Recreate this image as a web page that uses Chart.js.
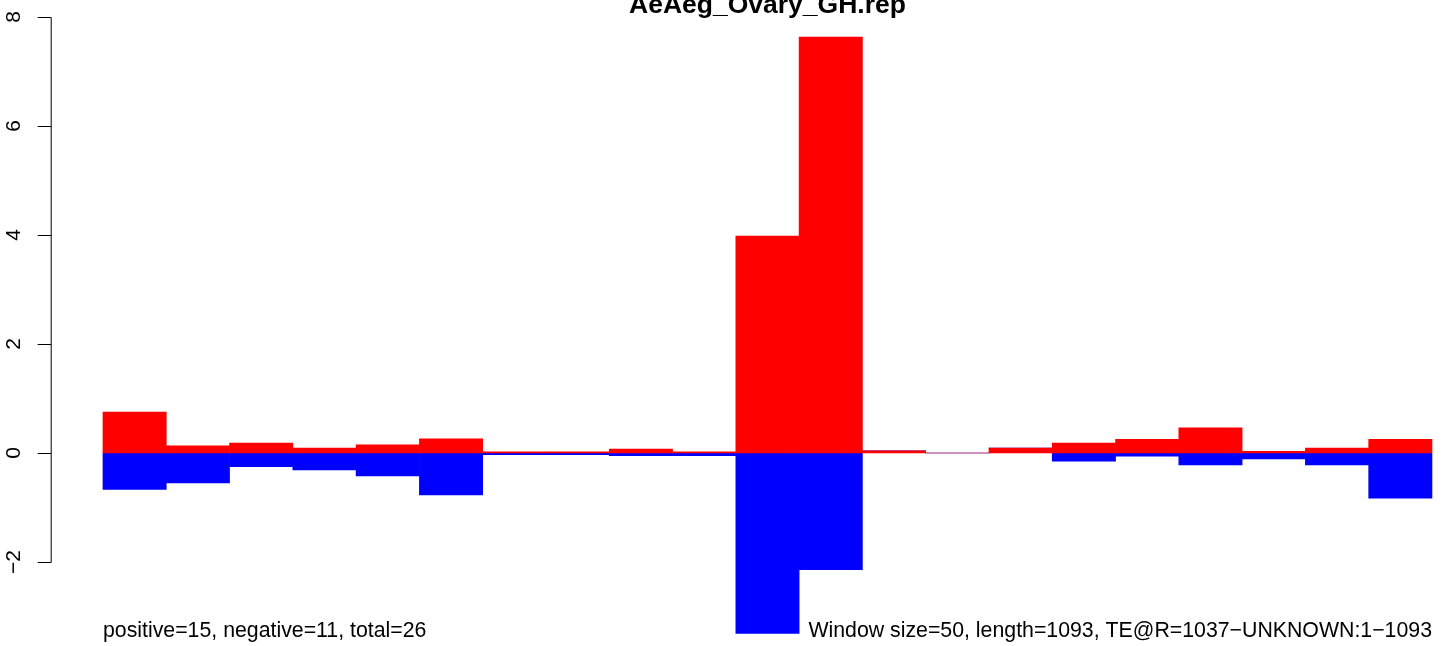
<!DOCTYPE html>
<html>
<head>
<meta charset="utf-8">
<title>AeAeg_Ovary_GH.rep</title>
<script src="https://cdn.jsdelivr.net/npm/chart.js@4.4.1/dist/chart.umd.min.js"></script>
<style>
  html, body { margin: 0; padding: 0; background: #fff; }
  #wrap { width: 1444px; height: 646px; }
</style>
</head>
<body>
<div id="wrap"><canvas id="bars" width="1444" height="646"></canvas></div>
<script>
// one window per bar, 50bp windows along the 1093bp element
var windows = [1,2,3,4,5,6,7,8,9,10,11,12,13,14,15,16,17,18,19,20,21];
var positives = [0.75,0.13,0.18,0.09,0.15,0.26,0.02,0.02,0.07,0.02,3.98,7.63,0.04,0,0.09,0.18,0.25,0.46,0.03,0.09,0.25];
var negatives = [-0.67,-0.55,-0.25,-0.31,-0.42,-0.77,-0.03,-0.03,-0.05,-0.05,-3.31,-2.14,0,0,0,-0.15,-0.06,-0.22,-0.11,-0.22,-0.83];
var yTicks = [-2,0,2,4,6,8];
var title = "AeAeg_Ovary_GH.rep";
var leftNote = "positive=15, negative=11, total=26";
var rightNote = "Window size=50, length=1093, TE@R=1037\u2212UNKNOWN:1\u22121093";

function points(vals) {
  return vals.map(function(v, i) { return {x: windows[i], y: v}; });
}

// R style axis + text, drawn after the bars
var rDecor = {
  id: "rDecor",
  afterDraw: function(chart) {
    var ctx = chart.ctx;
    var xs = chart.scales.x, ys = chart.scales.y;
    var axX = chart.chartArea.left;
    ctx.save();
    ctx.strokeStyle = "#000";
    ctx.lineWidth = 1;
    ctx.beginPath();
    ctx.moveTo(axX + 0.5, Math.round(ys.getPixelForValue(yTicks[0])) + 0.5);
    ctx.lineTo(axX + 0.5, Math.round(ys.getPixelForValue(yTicks[yTicks.length-1])) + 0.5);
    for (var i = 0; i < yTicks.length; i++) {
      var py = Math.round(ys.getPixelForValue(yTicks[i])) + 0.5;
      ctx.moveTo(axX + 0.5, py);
      ctx.lineTo(axX - 13, py);
    }
    ctx.stroke();

    ctx.fillStyle = "#000";
    ctx.font = "21px 'Liberation Sans', Arial, sans-serif";
    ctx.textAlign = "center";
    ctx.textBaseline = "middle";
    for (var i = 0; i < yTicks.length; i++) {
      ctx.save();
      ctx.translate(14, ys.getPixelForValue(yTicks[i]));
      ctx.rotate(-Math.PI / 2);
      ctx.fillText(yTicks[i] < 0 ? "\u2212" + Math.abs(yTicks[i]) : String(yTicks[i]), 0, 0);
      ctx.restore();
    }

    ctx.textBaseline = "alphabetic";
    ctx.font = "bold 26.5px 'Liberation Sans', Arial, sans-serif";
    ctx.fillText(title, xs.getPixelForValue(11), 13);

    ctx.font = "21.3px 'Liberation Sans', Arial, sans-serif";
    ctx.textAlign = "left";
    ctx.fillText(leftNote, xs.getPixelForValue(0.5), 637);
    ctx.textAlign = "right";
    ctx.fillText(rightNote, xs.getPixelForValue(21.5), 637);
    ctx.restore();
  }
};

var chart = new Chart(document.getElementById("bars").getContext("2d"), {
  type: "bar",
  data: {
    datasets: [{
      label: "positive",
      data: points(positives),
      backgroundColor: "#ff0000",
      borderWidth: 0
    }, {
      label: "negative",
      data: points(negatives),
      backgroundColor: "#0000ff",
      borderWidth: 0
    }]
  },
  options: {
    responsive: false,
    animation: false,
    barPercentage: 1.0,
    categoryPercentage: 1.0,
    layout: { padding: { left: 50.7, right: 0, top: 0, bottom: 0 } },
    plugins: {
      legend: { display: false },
      tooltip: { enabled: false }
    },
    scales: {
      x: {
        type: "linear",
        stacked: true,
        display: false,
        offset: false,
        min: -0.326,
        max: 21.69
      },
      y: {
        stacked: true,
        display: false,
        min: -3.541,
        max: 8.312
      }
    }
  },
  plugins: [rDecor]
});
</script>
</body>
</html>
